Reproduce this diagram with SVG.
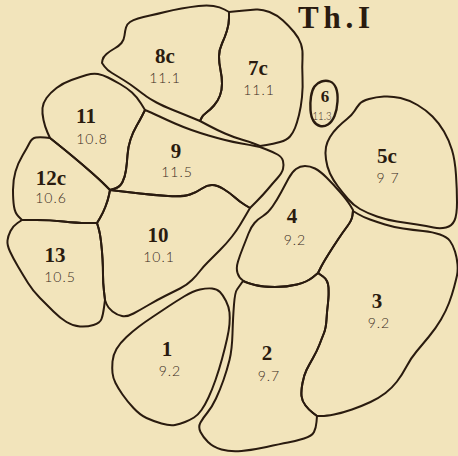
<svg xmlns="http://www.w3.org/2000/svg" width="458" height="456" viewBox="0 0 458 456">
<style>
.c{fill:none;stroke:#2a1b0f;stroke-width:2;stroke-linejoin:round;stroke-linecap:round}
.b{font-family:"Liberation Serif","DejaVu Serif",serif;font-weight:bold;font-size:21px;fill:#2a1b0f;text-anchor:middle}
.n{font-family:"Lato","Liberation Sans",sans-serif;font-weight:300;font-size:14px;fill:#3a2b1c;text-anchor:middle;letter-spacing:1px}
</style>
<rect width="458" height="456" fill="#f2e4bb"/>
<text x="298" y="28" font-family="Liberation Serif, serif" font-weight="bold" font-size="31" fill="#2a1b0f" textLength="72" lengthAdjust="spacing">Th.I</text>
<g id="cell8c">
<path class="c" d="M104.5,66.5 L102,63 L102.5,60 Q103,57 106.5,54 Q110,51 114.5,48.5 Q119,46 121.5,43 Q124,40 124.5,35.5 Q125,31 126,27.5 Q127,24 130,22 Q133,20 138,18.5 Q143,17 150,15.5 Q157,14 165,12 Q173,10 181.5,8.5 Q190,7 198.5,6 Q207,5 213.5,6 Q220,7 224.5,9.5 L229,12 L229,18 Q229,24 227,30.5 Q225,37 222,43.5 Q219,50 219,56.5 Q219,63 220.5,70 Q222,77 222,83.5 Q222,90 220,95.5 Q218,101 214,105.5 Q210,110 206.5,112.5 Q203,115 201.5,118 L200,121 L191.5,117.5 Q183,114 173,110 Q163,106 156.5,102.5 Q150,99 146.5,96.5 Q143,94 136.5,89 Q130,84 123.5,80 Q117,76 112,73 Q107,70 104.5,66.5 Z"/>
<text class="b" x="165" y="63">8c</text><text class="n" x="165" y="83">11.1</text>
</g>
<g id="cell7c">
<path class="c" d="M229,12 L234,11.5 Q239,11 244.5,10.5 Q250,10 256,9.5 Q262,9 269.5,12 Q277,15 283,20.5 Q289,26 294,32 Q299,38 301,44 Q303,50 302.5,58.5 Q302,67 302.5,77 Q303,87 302,97 Q301,107 299,115 Q297,123 295,128 Q293,133 290,136.5 Q287,140 280,142 Q273,144 266.5,145 L260,146 L255,144 Q250,142 241.5,139.5 Q233,137 225,133.5 Q217,130 208.5,125.5 L200,121 L201.5,118 Q203,115 206.5,112.5 Q210,110 214,105.5 Q218,101 220,95.5 Q222,90 222,83.5 Q222,77 220.5,70 Q219,63 219,56.5 Q219,50 222,43.5 Q225,37 227,30.5 Q229,24 229,18 Z"/>
<text class="b" x="258" y="75">7c</text><text class="n" x="259" y="95">11.1</text>
</g>
<g id="cell6">
<path class="c" style="stroke-width:2.4" d="M311,96.5 Q312,90 314.5,86.5 Q317,83 321.5,81.5 Q326,80 330,81.5 Q334,83 336,88 Q338,93 337.5,101.5 Q337,110 334.5,116 Q332,122 328,124.5 Q324,127 320,126 Q316,125 313.5,121 Q311,117 310.5,110 Q310,103 311,96.5 Z"/>
<text class="b" x="325" y="102" style="font-size:17px">6</text><text class="n" x="322" y="120" style="font-size:11px;letter-spacing:0" textLength="19" lengthAdjust="spacingAndGlyphs">11.3</text>
</g>
<g id="cell5c">
<path class="c" d="M384,96.5 Q392,96 400.5,98 Q409,100 417.5,105 Q426,110 432.5,116.5 Q439,123 444,131.5 Q449,140 452,150 Q455,160 456,175 Q457,190 457,202.5 Q457,215 454.5,220.5 Q452,226 446,227.5 Q440,229 433.5,227.5 Q427,226 417,224.5 Q407,223 397,221.5 Q387,220 377,216.5 Q367,213 360,209 Q353,205 348,199 Q343,193 338,186.5 Q333,180 330,173.5 Q327,167 326,159.5 Q325,152 326,147 Q327,142 330,137 Q333,132 337.5,127.5 Q342,123 347,119 Q352,115 354.5,111 Q357,107 359.5,104 Q362,101 369,99 Q376,97 384,96.5 Z"/>
<text class="b" x="387" y="163">5c</text><text class="n" x="388" y="183">9 7</text>
</g>
<g id="cell4">
<path class="c" d="M305,166 Q300,166 296,169 Q292,172 288.5,178.5 Q285,185 281,192.5 Q277,200 272.5,206.5 Q268,213 263,216 Q258,219 254.5,223 Q251,227 248.5,233.5 Q246,240 243,247.5 Q240,255 238,261.5 Q236,268 237.5,273 Q239,278 243,280.5 Q247,283 255,285 Q263,287 275,287 Q287,287 297,284.5 Q307,282 312.5,277.5 L318,273 L320.5,268 Q323,263 328,255 Q333,247 338,239.5 Q343,232 347.5,226 Q352,220 352.5,215 L353,210 L350,205 Q347,200 340,192 Q333,184 326.5,177.5 Q320,171 315,168.5 Q310,166 305,166 Z"/>
<text class="b" x="292" y="223">4</text><text class="n" x="295" y="245">9.2</text>
</g>
<g id="cell3">
<path class="c" d="M353,211 L358,214 Q363,217 370,219.5 Q377,222 385,224.5 Q393,227 403,228.5 Q413,230 423,231 Q433,232 440,234.5 Q447,237 450,241 Q453,245 455,251.5 Q457,258 457.5,264.5 Q458,271 457,275.5 Q456,280 454,287.5 Q452,295 449,303 Q446,311 441,319.5 Q436,328 429,336.5 Q422,345 416.5,351.5 Q411,358 406.5,366.5 Q402,375 397,381.5 Q392,388 385.5,393 Q379,398 370.5,402 Q362,406 352,409.5 Q342,413 334,414.5 Q326,416 321.5,416 L317,416 L313,413 Q309,410 305.5,405.5 Q302,401 301.5,396 Q301,391 302.5,383 Q304,375 306.5,370 Q309,365 313,358 Q317,351 319.5,344.5 Q322,338 324,333 Q326,328 326.5,319.5 Q327,311 328,303 Q329,295 328.5,287.5 Q328,280 323,276.5 L318,273 L320.5,268 Q323,263 328,255 Q333,247 338,239.5 Q343,232 347.5,226 Q352,220 352.5,215.5 Z"/>
<text class="b" x="377" y="308">3</text><text class="n" x="379" y="328">9.2</text>
</g>
<g id="cell2">
<path class="c" d="M318,273 L323,276.5 Q328,280 328.5,287.5 Q329,295 328,303 Q327,311 326.5,319.5 Q326,328 324,333 Q322,338 319.5,344.5 Q317,351 313,358 Q309,365 306.5,370 Q304,375 302.5,383 Q301,391 301.5,396 Q302,401 305.5,405.5 Q309,410 313,413 L317,416 L316.5,422 Q316,428 314,432 Q312,436 304,438.5 Q296,441 288,442.5 Q280,444 266.5,447 Q253,450 241.5,451 Q230,452 221.5,449.5 Q213,447 208,442 Q203,437 200.5,432 Q198,427 200.5,422.5 Q203,418 207.5,412.5 Q212,407 216,398.5 Q220,390 223.5,380 Q227,370 229.5,360 Q232,350 232.5,333.5 Q233,317 234,304.5 Q235,292 237,289.5 L243,281 Q247,283 255,285 Q263,287 275,287 Q287,287 297,284.5 Q307,282 312.5,277.5 Z"/>
<text class="b" x="267" y="360">2</text><text class="n" x="269" y="381">9.7</text>
</g>
<g id="cell1">
<path class="c" d="M112.5,373 Q112,368 112.5,361.5 Q113,355 116.5,349 Q120,343 126.5,337 Q133,331 139,326.5 Q145,322 152.5,317 Q160,312 167.5,307 Q175,302 184,296.5 Q193,291 200,289.5 Q207,288 212,288.5 Q217,289 220,292 Q223,295 226,301 Q229,307 229.5,312.5 Q230,318 229.5,324 Q229,330 227,339 Q225,348 222,359 Q219,370 215.5,380 Q212,390 208.5,397.5 Q205,405 201.5,410 Q198,415 194,417.5 Q190,420 185,422 Q180,424 175,425 Q170,426 161.5,423.5 Q153,421 146.5,418 Q140,415 133.5,408 Q127,401 122.5,394.5 Q118,388 115.5,383 Q113,378 112.5,373 Z"/>
<text class="b" x="167" y="356">1</text><text class="n" x="170" y="376">9.2</text>
</g>
<g id="cell10">
<path class="c" d="M110,190 L118.5,191 Q127,192 140,193.5 Q153,195 168,196 Q183,197 190,194.5 Q197,192 202,188.5 Q207,185 212,185 Q217,185 223.5,189 Q230,193 235,197.5 Q240,202 245,205 L250,208 L246.5,214 Q243,220 240,225 Q237,230 232,236.5 Q227,243 220,250 Q213,257 208,262 Q203,267 200,271 Q197,275 192,280 Q187,285 180,288.5 Q173,292 165,296 Q157,300 148.5,305 Q140,310 133.5,313.5 Q127,317 122,316 Q117,315 112.5,311.5 Q108,308 106.5,304 L105,300 L104,291.5 Q103,283 103,275 Q103,267 102.5,258.5 Q102,250 101,241.5 Q100,233 98.5,228 L97,223 L100,218 Q103,213 105.5,206.5 Q108,200 109,195 Z"/>
<text class="b" x="158" y="242">10</text><text class="n" x="159" y="262">10.1</text>
</g>
<g id="cell9">
<path class="c" d="M145,110 L147.5,111 Q150,112 158.5,116 Q167,120 175,123.5 Q183,127 191.5,130 Q200,133 208.5,135.5 Q217,138 225,140 Q233,142 241.5,143.5 Q250,145 255,146 L260,147 L266.5,149.5 Q273,152 277.5,154.5 Q282,157 283,161 Q284,165 283,169 Q282,173 277.5,178 Q273,183 268,189 Q263,195 256.5,201.5 L250,208 L245,205 Q240,202 235,197.5 Q230,193 223.5,189 Q217,185 212,185 Q207,185 202,188.5 Q197,192 190,194.5 Q183,197 168,196 Q153,195 140,193.5 Q127,192 118.5,191 L110,190 L115,188.5 Q120,187 122.5,182 Q125,177 126,170 Q127,163 127.5,155 Q128,147 130.5,139.5 Q133,132 136.5,126 Q140,120 142.5,115 Z"/>
<text class="b" x="176" y="158">9</text><text class="n" x="177" y="177">11.5</text>
</g>
<g id="cell11">
<path class="c" d="M42.5,108 Q43,103 46.5,98 Q50,93 56.5,88 Q63,83 71.5,80 Q80,77 86.5,75 Q93,73 98,74 Q103,75 108,77.5 Q113,80 120,84 Q127,88 132,92.5 Q137,97 141,103.5 L145,110 L142.5,115 Q140,120 136.5,126 Q133,132 130.5,139.5 Q128,147 127.5,155 Q127,163 126,170 Q125,177 122.5,182 Q120,187 115,188.5 L110,190 L105,185 Q100,180 91.5,172.5 Q83,165 74,157.5 Q65,150 57.5,144 L50,138 L47.5,132.5 Q45,127 43.5,120 Q42,113 42.5,108 Z"/>
<text class="b" x="86" y="123">11</text><text class="n" x="92" y="144">10.8</text>
</g>
<g id="cell12c">
<path class="c" d="M50,138 L57.5,144 Q65,150 74,157.5 Q83,165 91.5,172.5 Q100,180 105,185 L110,190 L109,195 Q108,200 105.5,206.5 Q103,213 100,218 L97,223 L87,223 Q77,223 63.5,221.5 Q50,220 36,220 L22,220 L18.5,216.5 Q15,213 14,206.5 Q13,200 13,190 Q13,180 15.5,171.5 Q18,163 22.5,155.5 Q27,148 29.5,143 Q32,138 36,137.5 Q40,137 45,137.5 Z"/>
<text class="b" x="51" y="185">12c</text><text class="n" x="51" y="203">10.6</text>
</g>
<g id="cell13">
<path class="c" d="M22,220 L36,220 Q50,220 63.5,221.5 Q77,223 87,223 L97,223 L98.5,228 Q100,233 101,241.5 Q102,250 102.5,258.5 Q103,267 103,275 Q103,283 104,291.5 L105,300 L104,307.5 Q103,315 101.5,319 Q100,323 93.5,325 Q87,327 80,326.5 Q73,326 66.5,322 Q60,318 53.5,311.5 Q47,305 40,298 Q33,291 28,283 Q23,275 18,266.5 Q13,258 10,251.5 Q7,245 7.5,240.5 Q8,236 10.5,231 Q13,226 17.5,223 Z"/>
<text class="b" x="55" y="262">13</text><text class="n" x="60" y="282">10.5</text>
</g>
</svg>
